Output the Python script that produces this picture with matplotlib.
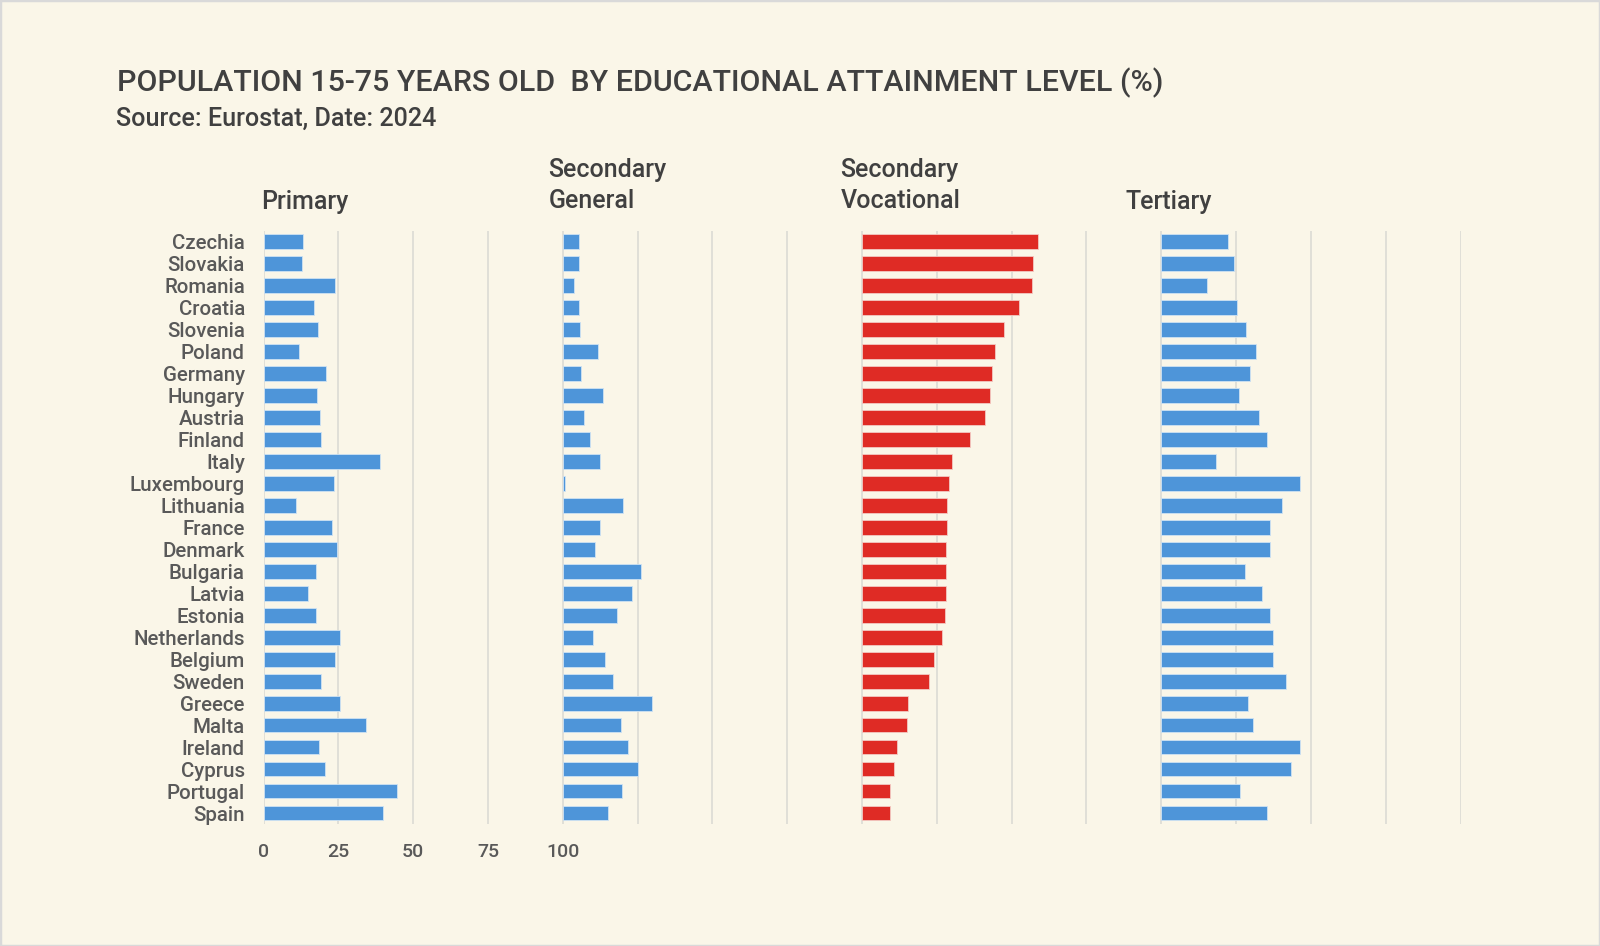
"""Population 15-75 by educational attainment, four small columns on one axis."""

import matplotlib
matplotlib.use('Agg')
import matplotlib.pyplot as plt

countries = ['Czechia', 'Slovakia', 'Romania', 'Croatia', 'Slovenia', 'Poland', 'Germany',
             'Hungary', 'Austria', 'Finland', 'Italy', 'Luxembourg', 'Lithuania', 'France',
             'Denmark', 'Bulgaria', 'Latvia', 'Estonia', 'Netherlands', 'Belgium', 'Sweden',
             'Greece', 'Malta', 'Ireland', 'Cyprus', 'Portugal', 'Spain']

primary = [13.1, 12.8, 24.0, 16.9, 18.2, 11.8, 20.8, 17.9, 18.8, 19.3, 39.0, 23.7, 10.7, 23.0,
           24.7, 17.6, 15.0, 17.4, 25.7, 24.0, 19.1, 25.7, 34.4, 18.6, 20.6, 44.5, 40.0]
sec_general = [5.3, 5.3, 3.8, 5.3, 5.6, 11.8, 6.1, 13.5, 7.2, 9.2, 12.4, 0.9, 20.3, 12.3,
               10.7, 26.1, 23.0, 18.2, 10.2, 14.2, 16.9, 29.7, 19.6, 21.8, 25.0, 19.8, 15.2]
sec_vocational = [58.8, 57.3, 56.8, 52.4, 47.6, 44.5, 43.5, 42.8, 41.1, 36.0, 30.0, 29.2, 28.5, 28.5,
                  28.1, 28.1, 28.0, 27.8, 26.6, 24.2, 22.5, 15.5, 15.2, 11.8, 10.6, 9.2, 9.2]
tertiary = [22.3, 24.2, 15.2, 25.2, 28.3, 31.5, 29.5, 26.1, 32.7, 35.3, 18.4, 46.2, 40.2, 36.3,
            36.3, 28.1, 33.8, 36.3, 37.3, 37.3, 41.6, 29.0, 30.5, 46.2, 43.5, 26.3, 35.5]

offsets = [0, 100, 200, 300]
xticks = list(range(0, 401, 25))
xticklabels = ['0', '25', '50', '75', '100'] + [''] * 12

BG = '#FAF6E8'
BLUE = '#4E95D9'
RED = '#DF2B25'
W, H = 1600, 946

plt.rcParams['font.family'] = ['Roboto', 'DejaVu Sans']

fig = plt.figure(figsize=(W / 100, H / 100), dpi=100, facecolor=BG)
ax = fig.add_axes([263.5 / W, 1 - 824 / H, 1197 / W, 593.3 / H], facecolor=BG)

columns = [(primary, BLUE), (sec_general, BLUE), (sec_vocational, RED), (tertiary, BLUE)]
for (values, color), off in zip(columns, offsets):
    ax.barh(countries, values, left=off, height=0.67, color=color,
            edgecolor='#CFE2F3' if color == BLUE else '#F3C9C2', linewidth=0.6, zorder=3)

ax.set_xlim(0, 400)
ax.set_ylim(len(countries) - 0.5, -0.5)
ax.set_xticks(xticks)
ax.set_xticklabels(xticklabels, fontweight='medium')
for lab in ax.get_yticklabels():
    lab.set_fontweight('medium')
ax.grid(axis='x', color='#DEDDD6', linewidth=1.3, zorder=1)
ax.set_axisbelow(True)
for s in ax.spines.values():
    s.set_visible(False)
ax.tick_params(axis='y', length=0, pad=13.5, labelsize=14.8, labelcolor='#595959')
ax.tick_params(axis='x', length=0, pad=14, labelsize=14, labelcolor='#595959')


def put(x, y, s, size, weight='normal', color='#404040'):
    fig.text(x / W, 1 - y / H, s, fontsize=size, fontweight=weight, color=color,
             ha='left', va='center')


put(117, 83, 'POPULATION 15-75 YEARS OLD  BY EDUCATIONAL ATTAINMENT LEVEL (%)', 21.9, 'medium')
put(116.5, 118.5, 'Source: Eurostat, Date: 2024', 18.1, 'medium')
put(261.5, 202, 'Primary', 18, 'medium')
put(548.5, 170.5, 'Secondary', 18, 'medium')
put(548.5, 201.5, 'General', 18, 'medium')
put(840.5, 170.5, 'Secondary', 18, 'medium')
put(840.5, 201.5, 'Vocational', 18, 'medium')
put(1125, 202, 'Tertiary', 18, 'medium')

# thin frame around the whole picture
fig.patches.append(plt.Rectangle((0, 0), 1, 1, transform=fig.transFigure, fill=False,
                                 edgecolor='#D9D9D9', linewidth=2.5))

fig.savefig('out.png', dpi=100, facecolor=BG)
